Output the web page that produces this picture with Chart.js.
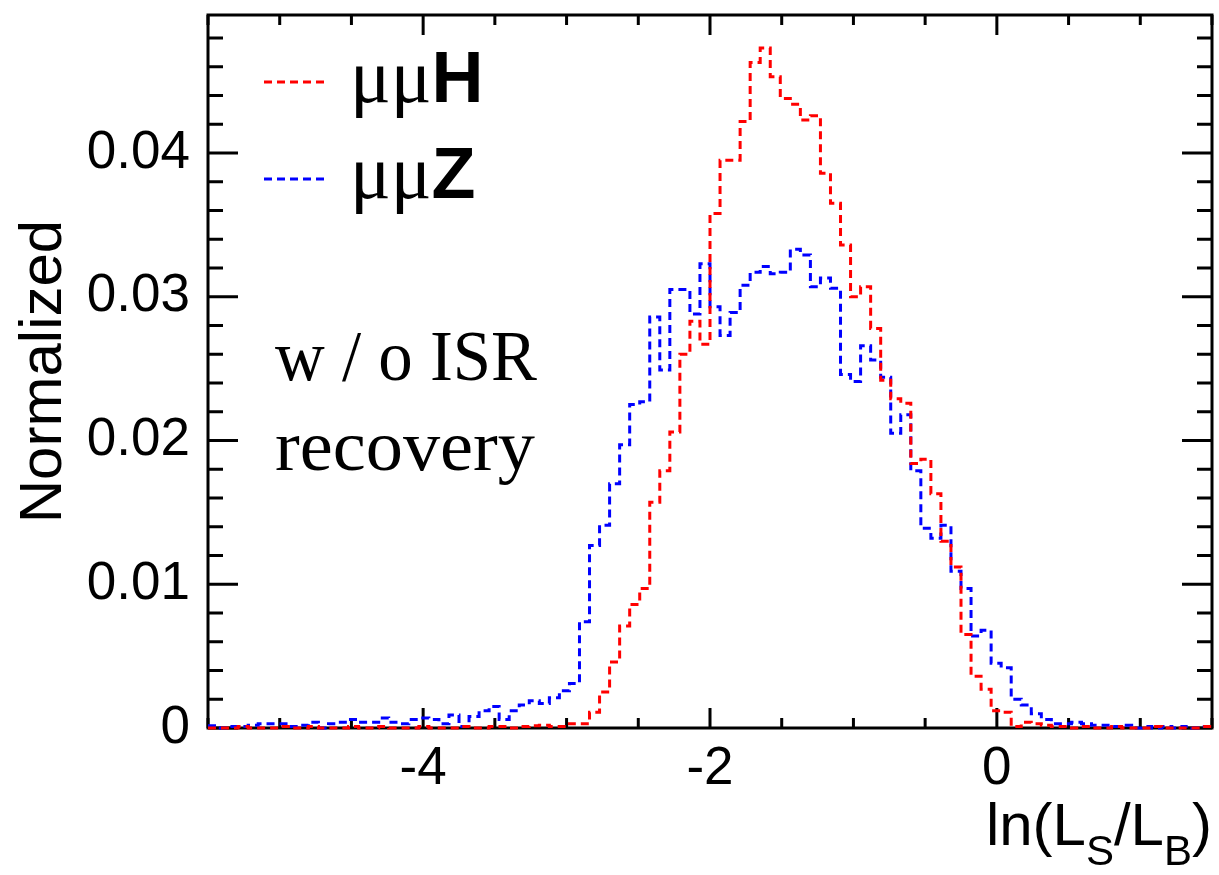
<!DOCTYPE html>
<html>
<head>
<meta charset="utf-8">
<title>ln(LS/LB) - w/o ISR recovery</title>
<script src="https://cdn.jsdelivr.net/npm/chart.js@4.4.1/dist/chart.umd.min.js"></script>
<style>
  html, body { margin: 0; padding: 0; background: #fff; }
  #wrap { position: relative; width: 1219px; height: 875px; }
  #chart { position: absolute; left: 0; top: 0; }
  #overlay { position: absolute; left: 0; top: 0; pointer-events: none; }
</style>
</head>
<body>
<div id="wrap">
  <canvas id="chart" width="1219" height="875"></canvas>
  <svg id="overlay" width="1219" height="875">
    <line x1="264" y1="82" x2="329" y2="82" stroke="#ff0000" stroke-width="3" stroke-dasharray="8 5"/>
    <text x="350" y="102"><tspan font-family="Liberation Serif" font-size="76">μμ</tspan><tspan font-family="Liberation Sans" font-weight="bold" font-size="72">H</tspan></text>
    <line x1="264" y1="179" x2="329" y2="179" stroke="#0000ff" stroke-width="3" stroke-dasharray="8 5"/>
    <text x="350" y="198"><tspan font-family="Liberation Serif" font-size="76">μμ</tspan><tspan font-family="Liberation Sans" font-weight="bold" font-size="72">Z</tspan></text>
    <text x="275" y="380" font-family="Liberation Serif" font-size="72" textLength="262" lengthAdjust="spacingAndGlyphs">w / o ISR</text>
    <text x="275" y="470" font-family="Liberation Serif" font-size="72" textLength="260" lengthAdjust="spacingAndGlyphs">recovery</text>
    <text x="1212" y="845" text-anchor="end" font-family="Liberation Sans" font-size="60">ln(L<tspan font-size="42" dy="20">S</tspan><tspan font-size="60" dy="-20">/L</tspan><tspan font-size="42" dy="20">B</tspan><tspan font-size="60" dy="-20">)</tspan></text>
  </svg>
</div>
<script>
// histogram binning
const xMin = -5.5, xMax = 1.5, nBins = 100;
const yMax = 0.0496;
const xTicks = [-4, -2, 0];
const yTicks = [0, 0.01, 0.02, 0.03, 0.04];

// normalized bin contents
const muMuH = [
  0, 0, 0, 0.0001, 0, 0, 0, 0.0001, 0, 0,
  0.0001, 0, 0, 0, 0.0001, 0, 0, 0.0001, 0, 0,
  0, 0.0001, 0, 0, 0, 0.0001, 0, 0, 0.0001, 0.0001,
  0, 0.0001, 0.00015, 0.0002, 0.0001, 0.0001, 0.0003, 0.0003, 0.0011, 0.0025,
  0.0046, 0.0071, 0.0086, 0.0097, 0.0157, 0.0179, 0.0206, 0.0260, 0.0283, 0.0267,
  0.0358, 0.0395, 0.0395, 0.0422, 0.0463, 0.0473, 0.0453, 0.0438, 0.0434, 0.0423,
  0.0426, 0.0386, 0.0365, 0.0336, 0.0300, 0.0307, 0.0278, 0.0242, 0.0229, 0.0226,
  0.0184, 0.0187, 0.0163, 0.0130, 0.0112, 0.0065, 0.0036, 0.0027, 0.0012, 0.0011,
  0.0001, 0.0004, 0.0003, 0.0002, 0.0001, 0.0001, 0, 0.0001, 0, 0,
  0.0001, 0, 0, 0, 0.0001, 0, 0, 0, 0, 0.0001
];
const muMuZ = [
  0.00015, 0, 0.0001, 0.0001, 0.0002, 0.0003, 0.0003, 0.0003, 0.0001, 0.0002,
  0.0004, 0, 0.0003, 0.0004, 0.0006, 0.0004, 0.0004, 0.0007, 0.0004, 0.0003,
  0.0006, 0.0007, 0.0006, 0.0003, 0.0009, 0.0001, 0.0008, 0.0012, 0.0015, 0.0006,
  0.0012, 0.0016, 0.0019, 0.0017, 0.0021, 0.0026, 0.0031, 0.0074, 0.0127, 0.0141,
  0.0170, 0.0197, 0.0225, 0.0227, 0.0286, 0.0249, 0.0305, 0.0305, 0.0288, 0.0323,
  0.0293, 0.0273, 0.0289, 0.0308, 0.0317, 0.0321, 0.0316, 0.0317, 0.0333, 0.0329,
  0.0307, 0.0313, 0.0306, 0.0246, 0.0241, 0.0266, 0.0256, 0.0244, 0.0205, 0.0218,
  0.0179, 0.0139, 0.0132, 0.0141, 0.0109, 0.0097, 0.0064, 0.0068, 0.0045, 0.0042,
  0.0020, 0.0016, 0.0010, 0.0006, 0.0003, 0.0003, 0.0004, 0.0003, 0.0002, 0.0002,
  0.0001, 0.0002, 0, 0.0001, 0, 0.0001, 0, 0.0001, 0, 0.0001
];

const binWidth = (xMax - xMin) / nBins;
const binEdges = Array.from({length: nBins + 1}, (_, i) => xMin + i * binWidth);

// points at the left edge of each bin, plus the right edge of the last one
function histPoints(vals) {
  return binEdges.map((x, i) => ({x: x, y: vals[Math.min(i, nBins - 1)]}));
}

// ROOT-style frame with ticks on all four sides, pointing inwards
const frameTicks = {
  id: 'frameTicks',
  beforeDatasetsDraw(chart) {
    const {ctx, chartArea: a, scales} = chart;
    const x = scales.x, y = scales.y;
    ctx.save();
    ctx.strokeStyle = '#000';
    ctx.lineWidth = 3;
    ctx.beginPath();
    for (let v = xMin; v <= xMax + 1e-9; v += 0.5) {
      const px = x.getPixelForValue(v);
      const len = Math.abs(v % 2) < 1e-9 ? 20 : 10;
      ctx.moveTo(px, a.bottom); ctx.lineTo(px, a.bottom - len);
      ctx.moveTo(px, a.top); ctx.lineTo(px, a.top + len);
    }
    for (let k = 0; k * 0.002 <= yMax; k++) {
      const py = y.getPixelForValue(k * 0.002);
      const len = k % 5 == 0 ? 30 : 15;
      ctx.moveTo(a.left, py); ctx.lineTo(a.left + len, py);
      ctx.moveTo(a.right, py); ctx.lineTo(a.right - len, py);
    }
    ctx.stroke();
    ctx.strokeRect(a.left, a.top, a.right - a.left, a.bottom - a.top);
    ctx.restore();
  }
};

const tickFont = {family: 'Liberation Sans', size: 53};

new Chart(document.getElementById('chart'), {
  type: 'line',
  data: {
    datasets: [
      {
        label: 'μμH',
        data: histPoints(muMuH),
        borderColor: '#ff0000',
        borderWidth: 3,
        borderDash: [8, 5],
        stepped: 'before',
        pointRadius: 0,
        fill: false,
        clip: 4,
      },
      {
        label: 'μμZ',
        data: histPoints(muMuZ),
        borderColor: '#0000ff',
        borderWidth: 3,
        borderDash: [8, 5],
        stepped: 'before',
        pointRadius: 0,
        fill: false,
        clip: 4,
      },
    ]
  },
  options: {
    responsive: false,
    animation: false,
    layout: {padding: {top: 15, right: 7, left: 0, bottom: 0}},
    plugins: {legend: {display: false}, tooltip: {enabled: false}},
    scales: {
      x: {
        type: 'linear',
        min: xMin,
        max: xMax,
        grid: {display: false, drawTicks: false},
        border: {display: false},
        afterBuildTicks: s => { s.ticks = xTicks.map(v => ({value: v})); },
        afterFit: s => { s.height = 147; s.paddingLeft = 0; s.paddingRight = 0; },
        ticks: {
          font: tickFont, color: '#000', padding: 10,
          maxRotation: 0, autoSkip: false,
          callback: v => String(v),
        },
      },
      y: {
        type: 'linear',
        min: 0,
        max: yMax,
        grid: {display: false, drawTicks: false},
        border: {display: false},
        afterBuildTicks: s => { s.ticks = yTicks.map(v => ({value: v})); },
        afterFit: s => { s.width = 208; s.paddingTop = 0; s.paddingBottom = 0; },
        ticks: {
          font: tickFont, color: '#000', padding: 18,
          callback: v => v == 0 ? '0' : v.toFixed(2),
        },
        title: {
          display: true,
          text: 'Normalized',
          color: '#000',
          font: {family: 'Liberation Sans', size: 60, lineHeight: 1},
          padding: {top: 14, bottom: 0},
        },
      },
    },
  },
  plugins: [frameTicks],
});
</script>
</body>
</html>
